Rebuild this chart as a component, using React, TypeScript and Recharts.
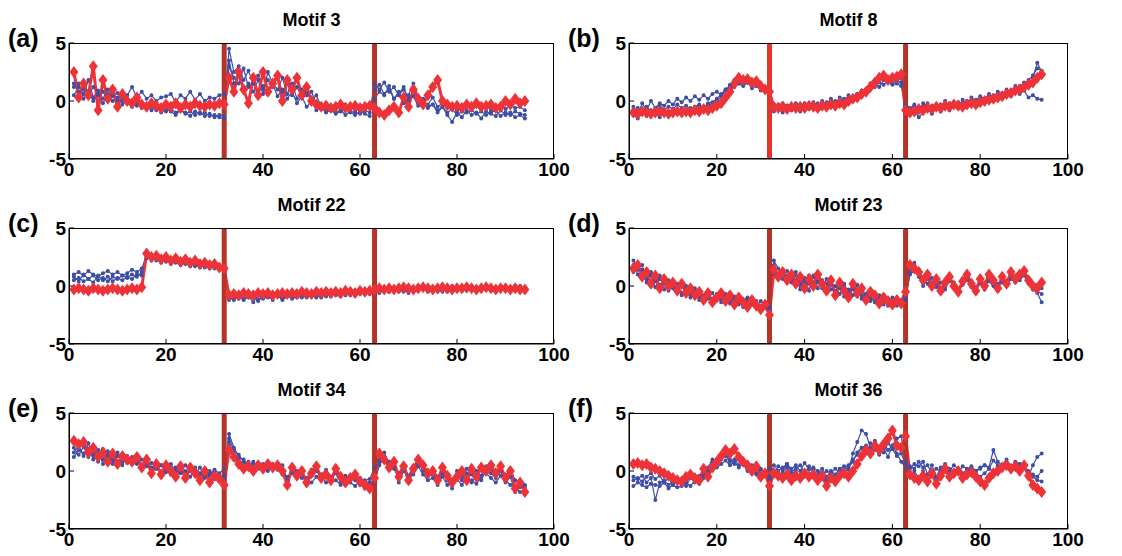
import React from "react";
import { LineChart, Line, XAxis, YAxis, ReferenceLine } from "recharts";

// Motif profiles, x = 1..94. red = motif centroid, blue = member profiles.
const panelLabels = ["(a)", "(b)", "(c)", "(d)", "(e)", "(f)"];
const panelTitles = ["Motif 3", "Motif 8", "Motif 22", "Motif 23", "Motif 34", "Motif 36"];
const xTicks = [0, 20, 40, 60, 80, 100];
const yTicks = [-5, 0, 5];
const breakPoints = [32, 63];

const redA = [2.5,0.3,1.5,0.5,3.0,-0.8,1.8,0.2,1.0,-0.5,0.6,0.0,-0.2,0.3,-0.3,-0.5,-0.2,-0.4,-0.6,-0.3,-0.5,-0.2,-0.6,-0.3,-0.5,-0.2,-0.4,-0.5,-0.3,-0.4,-0.2,
  -0.3,2.0,0.8,2.5,1.0,-0.2,2.0,0.5,2.5,0.8,1.5,2.2,0.0,1.8,1.0,2.0,0.5,1.2,0.0,-0.3,-0.5,-0.4,-0.6,-0.5,-0.3,-0.6,-0.5,-0.4,-0.6,-0.5,-0.4,
  -0.6,-1.0,-1.2,-0.8,-0.5,-1.0,0.3,-0.5,1.0,0.2,-0.3,0.5,1.2,1.8,0.0,-0.3,-0.5,-0.4,-0.6,-0.3,-0.5,-0.2,-0.5,-0.4,-0.3,-0.6,-0.5,0.0,-0.3,0.2,-0.2,0.0];
const blueA1 = [1.5,0.8,1.0,0.5,1.2,0.6,0.8,0.2,0.5,0.0,0.3,-0.2,0.0,-0.4,-0.3,-0.6,-0.5,-0.8,-0.6,-0.9,-0.7,-1.0,-0.8,-1.1,-0.9,-1.2,-1.0,-1.3,-1.1,-1.4,-1.2,
  -1.3,4.5,2.5,3.0,1.8,2.6,1.5,2.2,1.0,1.8,1.2,2.0,0.8,1.5,0.5,1.2,0.3,0.8,0.0,0.5,-0.5,-0.8,-0.6,-1.0,-0.8,-1.2,-0.9,-1.0,-1.1,-0.8,-1.0,
  1.5,1.0,1.6,0.8,1.2,0.5,1.0,0.3,0.6,-0.2,0.2,-0.5,-0.3,-0.8,-0.5,-1.0,-0.7,-1.2,-0.9,-1.0,-0.8,-1.1,-0.9,-1.2,-1.0,-0.8,-1.3,-1.0,-1.2,-0.9,-1.1,-1.2];
const blueA2 = [0.5,1.2,0.6,1.8,0.3,0.9,0.2,1.0,0.4,0.7,0.0,0.5,1.2,0.3,0.8,0.2,0.5,0.0,0.3,0.4,0.6,-0.1,0.5,0.2,0.8,0.1,0.6,0.0,0.3,0.2,0.5,
  0.6,3.5,1.5,2.2,1.0,1.5,0.8,1.8,0.6,2.5,1.5,1.0,2.0,0.6,1.5,0.2,1.0,0.5,0.8,-0.3,-0.5,-0.2,-0.8,-0.4,-0.6,-0.3,-0.5,-0.8,-0.4,-0.6,-0.5,
  0.2,0.8,0.5,1.3,0.2,0.8,-0.2,0.5,1.5,0.4,0.0,-0.3,0.3,-0.5,-0.2,-0.6,-0.3,-0.8,-0.5,-0.4,-0.7,-0.3,-0.6,-0.4,-0.8,-0.5,-0.3,-0.7,-0.4,-0.6,-0.5,-0.8];
const blueA3 = [1.2,1.5,0.2,0.8,0.0,0.5,-0.2,0.6,0.0,0.3,-0.3,0.0,-0.5,-0.2,-0.6,-0.4,-0.8,-0.5,-1.0,-0.7,-0.9,-1.2,-0.8,-1.0,-1.3,-0.9,-1.1,-1.0,-1.3,-1.2,-1.4,
  -1.5,3.0,2.0,1.5,2.8,1.2,1.6,0.8,1.3,0.6,1.5,0.4,1.0,0.2,0.8,-0.2,0.4,-0.5,0.0,-0.8,-0.6,-1.0,-0.8,-1.1,-0.9,-0.7,-1.0,-1.2,-0.9,-1.1,-1.3,
  1.0,1.4,0.6,1.0,0.2,0.6,1.2,0.0,0.4,-0.4,0.0,-0.6,-0.3,-1.0,-0.5,-1.2,-1.8,-1.0,-1.4,-0.8,-1.2,-1.0,-1.5,-0.9,-1.1,-1.3,-0.8,-1.2,-1.0,-1.4,-1.2,-1.5];

const redB = [-1.0,-1.1,-0.9,-1.0,-1.1,-1.0,-0.9,-1.0,-1.1,-1.0,-0.9,-1.0,-0.9,-1.0,-0.8,-0.9,-0.7,-0.8,-0.6,-0.4,-0.2,0.3,0.8,1.5,2.0,1.8,1.9,1.6,1.7,1.3,1.0,
  0.8,-0.5,-0.6,-0.5,-0.7,-0.5,-0.6,-0.5,-0.6,-0.4,-0.5,-0.6,-0.4,-0.5,-0.3,-0.4,-0.2,-0.3,0.0,0.2,0.3,0.6,0.8,1.2,1.6,2.0,2.2,1.8,2.0,2.1,2.3,
  -0.8,-1.0,-0.9,-0.7,-0.8,-0.6,-0.7,-0.5,-0.6,-0.4,-0.5,-0.3,-0.4,-0.5,-0.3,-0.2,-0.3,-0.1,0.0,0.1,0.2,0.3,0.4,0.6,0.7,0.9,1.0,1.2,1.4,1.6,2.0,2.3];
const blueB1 = [-0.5,-1.2,-0.2,-0.8,0.0,-0.6,-0.2,-0.4,0.0,-0.3,0.2,-0.1,0.3,0.0,0.4,0.1,0.5,0.2,0.6,0.8,0.5,1.0,1.2,1.6,1.8,1.5,2.0,1.7,1.5,1.3,1.2,
  0.5,-0.6,-0.3,-0.8,-0.4,-0.7,-0.2,-0.6,-0.3,-0.5,-0.1,-0.4,0.0,-0.3,0.2,-0.2,0.3,0.0,0.5,0.2,0.6,0.8,1.0,1.3,1.5,1.2,1.8,1.6,1.4,1.5,1.3,
  -0.5,-0.8,-0.3,-1.0,-0.5,-0.2,-0.8,-0.3,-0.6,0.0,-0.4,-0.1,-0.5,0.1,-0.2,0.3,0.0,0.4,0.2,0.6,0.3,0.8,0.5,1.0,0.8,1.3,1.0,1.6,1.2,2.0,3.3,2.5];
const blueB2 = [-1.2,-1.5,-1.0,-1.3,-0.8,-1.1,-1.4,-0.9,-1.2,-0.8,-1.0,-0.7,-0.9,-0.6,-0.8,-0.5,-0.7,-0.4,-0.2,0.0,0.4,0.9,1.4,1.8,1.5,2.0,1.6,1.8,1.4,1.2,0.9,
  0.6,-0.9,-0.7,-1.0,-0.6,-0.8,-0.5,-0.9,-0.6,-0.7,-0.4,-0.6,-0.5,-0.3,-0.5,-0.2,-0.4,0.0,-0.2,0.3,0.5,0.4,0.9,1.1,1.4,1.8,2.0,1.6,1.9,1.7,2.0,
  -1.0,-1.2,-0.8,-1.4,-1.0,-0.7,-1.1,-0.6,-0.9,-0.5,-0.8,-0.3,-0.6,-0.2,-0.5,0.0,-0.3,0.1,-0.2,0.3,0.0,0.5,0.2,0.8,0.4,1.0,0.6,0.9,0.3,0.5,0.2,0.1];
const blueB3 = [-0.8,-0.6,-1.0,-0.5,-0.9,-0.7,-0.4,-0.8,-0.5,-0.7,-0.3,-0.6,-0.4,-0.7,-0.5,-0.3,-0.6,-0.2,-0.1,0.2,0.6,1.0,1.3,1.2,1.5,1.3,1.6,1.1,1.3,0.9,0.8,
  0.7,-0.3,-0.5,-0.2,-0.4,-0.6,-0.3,-0.4,-0.2,-0.5,-0.3,-0.2,-0.4,-0.1,-0.3,0.0,-0.1,0.2,0.1,0.4,0.6,0.9,1.0,1.5,1.2,1.6,1.4,1.7,1.5,1.8,1.6,
  -0.3,-0.6,-0.4,-0.8,-0.2,-0.5,-0.4,-0.7,-0.3,-0.5,-0.2,-0.4,-0.1,-0.3,0.0,-0.2,0.1,0.2,0.0,0.3,0.5,0.4,0.7,0.6,0.9,1.1,1.3,1.5,1.8,2.2,2.8,2.6];

const redC = [-0.3,-0.2,-0.3,-0.4,-0.2,-0.3,-0.4,-0.3,-0.2,-0.3,-0.4,-0.3,-0.2,-0.3,-0.1,2.8,2.5,2.6,2.3,2.5,2.2,2.4,2.1,2.3,2.0,2.2,1.9,2.0,1.8,1.9,1.6,
  1.5,-0.8,-0.7,-0.8,-0.6,-0.7,-0.8,-0.6,-0.7,-0.6,-0.8,-0.7,-0.6,-0.7,-0.6,-0.7,-0.5,-0.6,-0.7,-0.5,-0.6,-0.5,-0.6,-0.5,-0.6,-0.4,-0.5,-0.6,-0.4,-0.5,-0.4,
  -0.3,-0.2,-0.3,-0.2,-0.3,-0.2,-0.1,-0.2,-0.3,-0.2,-0.1,-0.2,-0.3,-0.2,-0.1,-0.2,-0.3,-0.2,-0.2,-0.1,-0.2,-0.3,-0.2,-0.1,-0.2,-0.3,-0.2,-0.2,-0.3,-0.2,-0.3,-0.3];
const blueC1 = [1.0,1.2,0.9,1.3,1.0,0.8,1.1,1.3,1.0,1.2,0.9,1.1,1.4,1.2,1.5,2.6,2.2,2.4,2.0,2.3,1.9,2.1,1.8,2.0,1.7,1.9,1.6,1.8,1.5,1.7,1.4,
  1.3,-1.0,-1.2,-0.9,-1.1,-0.8,-1.0,-1.2,-0.8,-1.0,-0.7,-0.9,-1.1,-0.8,-0.9,-0.7,-0.8,-1.0,-0.7,-0.8,-0.6,-0.8,-0.5,-0.7,-0.6,-0.8,-0.5,-0.6,-0.4,-0.5,-0.4,
  -0.5,-0.3,-0.5,-0.2,-0.4,-0.3,-0.5,-0.2,-0.4,-0.3,-0.1,-0.4,-0.2,-0.5,-0.3,-0.1,-0.4,-0.2,-0.3,0.0,-0.2,-0.4,-0.1,-0.3,-0.2,-0.4,-0.1,-0.3,-0.2,0.0,-0.2,-0.3];
const blueC2 = [0.5,0.7,0.4,0.6,0.9,0.5,0.7,0.4,0.8,0.6,0.9,0.7,1.0,0.8,1.2,2.9,2.4,2.7,2.3,2.5,2.1,2.3,2.0,2.2,1.8,2.1,1.7,1.9,1.6,1.8,1.5,
  1.4,-0.6,-0.9,-1.1,-0.7,-1.0,-0.8,-1.3,-0.9,-0.7,-1.0,-0.8,-1.2,-0.9,-0.7,-1.0,-0.6,-0.9,-0.8,-1.0,-0.7,-0.9,-0.6,-0.8,-0.9,-0.6,-0.8,-0.5,-0.7,-0.6,-0.7,
  -0.1,-0.4,-0.2,-0.5,-0.1,-0.3,-0.4,-0.1,-0.3,0.0,-0.2,-0.4,-0.1,-0.3,-0.5,-0.2,0.0,-0.3,-0.1,-0.4,-0.2,-0.1,-0.3,0.0,-0.2,-0.4,-0.2,-0.1,-0.3,-0.1,0.0,-0.2];
const blueC3 = [0.8,0.4,1.0,0.6,0.3,0.9,0.5,0.8,0.4,0.7,0.5,0.8,0.6,1.0,0.9,2.4,2.7,2.2,2.5,2.1,2.4,2.0,2.2,1.9,2.1,1.7,2.0,1.6,1.8,1.5,1.6,
  1.6,-1.2,-1.0,-0.7,-1.2,-0.9,-1.4,-0.8,-1.1,-0.9,-1.2,-0.7,-1.0,-0.8,-1.1,-0.9,-1.0,-0.7,-0.9,-0.8,-1.0,-0.7,-0.9,-0.6,-0.8,-0.7,-0.5,-0.8,-0.6,-0.7,-0.5,
  -0.4,-0.6,-0.3,-0.5,-0.2,-0.5,-0.3,-0.6,-0.2,-0.4,-0.3,-0.5,-0.2,-0.4,-0.2,-0.5,-0.3,-0.1,-0.4,-0.3,-0.2,-0.4,-0.3,-0.1,-0.4,-0.2,-0.3,-0.2,-0.4,-0.1,-0.3,-0.2];

const redD = [1.5,1.8,0.8,1.2,0.2,0.9,-0.2,0.6,0.0,0.3,-0.4,0.2,-0.6,-0.2,-0.8,-0.5,-1.2,-0.6,-1.4,-1.0,-0.6,-1.3,-0.8,-1.6,-1.0,-1.4,-1.8,-1.2,-1.7,-2.0,-1.6,
  -2.5,1.4,0.8,1.2,0.5,1.0,0.2,0.8,-0.2,0.6,0.0,1.0,0.2,-0.4,0.5,-0.8,0.3,-0.4,-1.0,0.2,-0.6,-0.2,-1.2,-0.5,-0.8,-1.5,-1.0,-1.3,-1.6,-1.2,-1.5,
  -0.5,1.8,1.5,1.2,0.5,1.0,0.0,0.6,-0.4,0.3,0.8,0.0,-0.5,0.4,1.0,0.2,-0.4,0.6,0.0,1.0,0.5,-0.2,0.8,0.2,1.2,0.6,1.0,1.3,0.5,0.0,-0.2,0.3];
const blueD1 = [2.2,1.4,1.8,0.6,1.2,0.4,0.9,-0.3,0.5,-0.2,0.2,-0.8,0.0,-1.0,-0.4,-1.2,-0.8,-0.5,-1.5,-0.9,-1.2,-0.7,-1.5,-1.1,-1.3,-1.8,-1.2,-1.6,-1.3,-1.9,-1.5,
  -1.8,2.2,1.5,0.9,1.3,0.4,0.9,-0.3,0.7,0.2,0.9,-0.2,0.5,-0.6,0.3,-0.5,0.0,-0.9,-0.3,-0.8,0.1,-1.1,-0.7,-1.0,-1.4,-0.8,-1.6,-1.1,-1.8,-1.3,-1.2,
  -0.3,1.5,2.0,1.0,0.3,0.8,-0.2,0.5,-0.6,0.2,0.9,-0.2,-0.7,0.3,0.8,-0.1,-0.6,0.5,-0.3,0.8,0.2,-0.4,0.6,0.0,1.0,0.3,0.8,1.1,0.2,-0.3,-0.6,-1.4];
const blueD2 = [1.2,2.0,1.0,0.6,0.9,-0.1,0.6,0.2,-0.4,0.4,-0.5,0.0,-0.4,-0.8,-0.2,-1.0,-1.3,-0.8,-1.1,-0.7,-1.4,-1.0,-0.6,-1.2,-0.9,-1.5,-1.1,-1.4,-1.8,-1.3,-1.6,
  -2.0,1.8,0.6,1.4,0.7,0.3,1.2,0.1,0.5,-0.4,0.8,0.3,-0.2,0.6,-0.3,0.0,-0.7,0.2,-0.6,-0.1,-0.9,-0.4,-0.8,-1.3,-0.6,-1.1,-0.8,-1.7,-1.2,-1.0,-1.4,
  -1.0,1.2,1.6,1.4,0.6,0.2,0.7,-0.1,0.3,-0.3,0.5,0.2,-0.3,0.1,0.6,0.4,-0.2,0.3,0.1,0.6,0.3,0.0,0.5,0.3,0.9,0.5,0.8,1.0,0.6,0.2,0.1,-0.2];
const blueD3 = [1.8,1.0,1.4,0.3,1.0,0.6,0.1,0.4,-0.3,0.1,-0.2,-0.6,-0.3,-0.5,-1.0,-0.7,-0.9,-1.1,-0.6,-1.2,-0.8,-1.1,-1.3,-0.9,-1.6,-1.2,-1.0,-1.5,-1.4,-1.7,-1.9,
  -2.2,1.0,1.1,0.6,0.9,0.7,0.5,0.4,0.2,0.9,0.3,0.4,0.0,0.2,0.1,-0.4,-0.2,0.0,-0.5,-0.3,-0.4,-0.8,-1.0,-0.7,-1.2,-0.9,-1.3,-1.4,-1.0,-1.7,-1.3,
  -1.2,1.0,1.3,0.8,0.0,0.6,0.3,0.2,-0.2,0.0,0.4,0.3,-0.4,0.2,0.5,0.0,-0.1,0.2,0.0,0.4,0.0,0.2,0.3,0.1,0.6,0.7,0.5,0.9,0.3,0.0,-0.4,-0.7];

const redE = [2.6,2.3,2.5,1.6,2.0,1.2,1.6,0.8,1.5,0.6,1.3,1.0,0.8,1.2,0.3,1.0,-0.2,0.6,-0.3,0.5,0.0,-0.5,0.4,-0.6,0.3,-0.2,-0.8,0.0,-1.0,-0.4,-0.7,
  -1.2,1.8,1.2,0.6,0.2,0.4,0.0,0.5,0.2,0.6,0.3,0.5,0.0,-1.2,0.3,-0.4,0.0,-1.0,-0.2,0.4,-0.6,-0.3,-0.8,0.2,-0.5,-1.0,-0.6,-0.3,-0.9,-1.2,-1.5,
  -0.6,1.5,1.0,0.3,0.8,-0.5,0.4,-0.8,0.2,1.0,0.5,-0.2,0.0,-0.8,0.3,-0.4,-1.0,-0.5,0.0,-0.8,0.2,-0.5,0.3,0.0,0.5,-0.2,0.4,-0.6,0.0,-1.5,-1.0,-1.8];
const blueE1 = [1.6,2.2,1.3,2.4,1.0,1.8,0.6,1.4,0.9,1.6,0.5,1.3,0.7,1.0,0.4,1.2,0.1,0.8,-0.2,0.4,0.2,-0.4,0.3,-0.5,0.1,-0.3,0.3,-0.6,-0.2,0.0,-0.5,
  -0.4,3.2,2.0,1.2,1.0,0.5,0.8,0.2,0.6,0.0,0.5,0.2,0.4,-1.0,0.0,-0.6,0.2,-1.2,-0.4,0.2,-0.8,-0.4,-1.0,0.0,-0.7,-1.2,-0.4,-0.8,-1.2,-0.9,-1.0,
  -0.8,1.0,1.6,0.6,0.2,-0.6,0.3,-1.0,0.0,0.6,0.2,-0.5,-0.3,-1.2,-0.2,-0.8,-1.5,-0.4,-0.8,-0.2,-1.0,-0.4,-0.8,0.2,-0.2,-0.6,0.0,-1.0,-0.5,-1.8,-1.4,-1.2];
const blueE2 = [2.0,1.4,2.1,1.2,1.6,0.8,1.9,1.2,1.0,1.4,0.8,1.0,1.2,0.6,1.0,0.4,0.7,0.2,0.5,-0.1,0.6,0.0,-0.2,0.5,0.0,0.3,-0.3,0.2,-0.4,0.1,-0.2,
  0.2,2.5,1.5,1.0,0.6,0.8,0.2,0.7,0.4,0.3,0.6,0.1,0.5,-0.8,0.4,0.0,-0.3,-0.6,0.1,0.0,-0.3,0.1,-0.5,-0.2,-0.9,-0.4,-0.8,-0.5,-0.6,-0.8,-0.7,
  0.3,0.8,1.2,0.8,0.4,-0.2,0.6,-0.4,0.4,0.8,0.0,-0.2,0.2,-0.5,0.0,-0.3,-0.8,0.0,-0.5,0.2,-0.3,0.0,-0.4,0.4,0.1,-0.3,0.3,-0.4,0.2,-0.8,-0.9,-1.4];
const blueE3 = [1.2,1.8,1.5,1.9,1.3,1.5,1.0,1.7,0.6,1.3,1.0,0.7,1.1,0.8,0.5,0.8,0.3,0.2,0.5,0.0,-0.3,0.3,-0.1,0.0,-0.5,0.2,-0.2,-0.4,0.0,-0.7,-0.4,
  -0.8,2.8,1.8,1.4,0.8,0.3,0.6,0.3,0.0,0.4,0.2,0.6,-0.3,-0.5,-0.2,-0.2,-0.6,-0.8,-1.0,-0.5,-0.4,-1.0,-0.6,-0.8,-1.2,-0.6,-1.0,-1.3,-0.8,-1.5,-1.2,
  -1.0,0.5,1.2,0.2,0.6,-1.0,0.0,-0.6,-0.3,0.4,-0.3,-0.8,-0.6,-1.0,-0.5,-1.2,-0.9,-0.7,-1.2,-0.6,-0.8,-1.1,-0.5,-0.2,-0.6,-1.0,-0.4,-0.8,-1.2,-1.4,-1.8,-2.0];

const redF = [0.6,0.7,0.5,0.6,0.3,0.2,0.0,-0.2,-0.4,-0.6,-0.8,-0.9,-0.5,-0.3,-0.6,-0.8,0.2,-0.5,0.3,0.8,1.3,1.8,1.5,1.9,1.2,0.8,0.5,0.0,0.4,-0.5,-0.2,
  -1.3,-0.2,-0.4,-0.6,-0.3,-0.8,-0.4,-0.6,-0.2,-0.5,-0.3,-0.8,-0.4,-1.3,-0.6,-0.9,-0.4,-0.2,-0.5,0.0,0.6,1.3,1.8,1.5,2.2,1.8,2.3,2.8,3.5,2.2,2.0,
  3.0,-0.3,-0.6,-0.8,-0.4,-0.9,-0.2,-1.1,-0.4,0.2,-0.5,-0.2,0.0,-0.6,-0.3,-0.1,-0.5,-0.9,-1.2,-0.6,-0.2,0.0,0.3,0.5,0.2,0.4,0.0,0.5,-0.4,-1.2,-1.5,-1.8];
const blueF1 = [-0.5,-0.7,-0.4,-1.0,-0.6,-2.5,-1.0,-0.8,-1.2,-0.9,-1.0,-1.1,-0.8,-0.6,-0.9,-0.7,-0.3,0.3,1.0,0.8,1.2,1.4,1.0,0.6,1.2,0.6,0.2,-0.2,0.4,-0.3,0.0,
  -0.6,0.5,0.0,0.3,0.6,-0.1,0.2,0.5,-0.2,0.4,0.0,-0.3,0.2,-0.5,0.0,-0.3,0.2,0.4,0.1,1.5,2.5,3.5,3.2,2.0,2.6,1.5,2.4,1.8,2.2,2.8,3.0,
  0.8,0.2,0.6,0.4,0.8,-0.3,0.5,-0.5,0.3,0.6,0.2,0.0,-0.2,0.4,0.2,-0.3,0.0,0.2,0.5,0.3,1.8,0.8,0.5,1.0,0.4,0.8,0.6,0.3,-0.5,0.5,1.2,1.5];
const blueF2 = [-1.3,-1.0,-1.2,-1.4,-1.1,-1.2,-1.3,-1.0,-1.5,-1.2,-1.4,-1.3,-1.0,-1.3,-0.8,-1.1,-0.5,0.0,0.8,0.9,1.0,1.3,0.8,1.0,0.5,0.9,0.2,0.5,-0.3,0.2,-0.4,
  -0.4,0.0,-0.4,-0.1,0.3,-0.3,0.0,-0.6,-0.1,-0.3,0.0,-0.5,-0.2,-0.8,-0.3,-0.5,0.0,-0.2,0.3,0.8,1.6,2.0,1.5,2.4,1.8,2.0,1.6,2.4,1.9,1.3,1.5,
  0.6,-0.5,0.0,-0.6,0.0,-0.7,-0.3,-0.6,-0.2,0.0,-0.4,-0.1,0.2,-0.5,0.0,0.3,-0.2,-0.5,-0.2,0.2,0.0,0.4,0.2,0.6,0.4,0.2,0.5,0.3,-0.2,-0.5,-0.8,-0.9];
const blueF3 = [-0.8,-0.6,-0.9,-0.5,-0.2,-0.7,-0.4,-1.0,-0.6,-1.2,-0.8,-1.0,-1.3,-0.6,-1.0,-0.4,-0.6,-0.2,0.4,0.3,0.6,0.9,0.5,0.8,0.3,0.6,0.0,0.3,-0.2,0.1,-0.2,
  0.2,-0.2,0.4,0.1,0.6,0.2,0.5,0.0,0.7,0.1,0.3,0.0,-0.3,0.0,-0.2,0.2,-0.1,0.3,0.5,1.0,1.4,2.0,2.2,1.6,2.5,1.4,2.0,1.2,2.2,1.5,0.8,
  0.3,0.4,0.2,0.8,0.3,0.5,-0.2,0.2,0.0,0.3,0.0,0.5,0.2,-0.2,0.1,0.4,0.0,0.3,0.5,0.2,0.9,0.5,0.3,0.6,0.4,0.3,0.6,0.4,0.0,-0.3,-0.5,0.0];

const panelSeries = [
  [redA, blueA1, blueA2, blueA3],
  [redB, blueB1, blueB2, blueB3],
  [redC, blueC1, blueC2, blueC3],
  [redD, blueD1, blueD2, blueD3],
  [redE, blueE1, blueE2, blueE3],
  [redF, blueF1, blueF2, blueF3],
];

const RED = "#ee3338";
const BLUE = "#3d4ea6";
const FONT = "'Liberation Sans', Arial, sans-serif";

const Diamond = (props: any) => {
  const { cx, cy } = props;
  if (cx == null || cy == null) return null;
  return <polygon points={`${cx},${cy - 6} ${cx + 4.5},${cy} ${cx},${cy + 6} ${cx - 4.5},${cy}`} fill={RED} />;
};

function Panel({ idx }: { idx: number }) {
  const col = idx % 2;
  const row = Math.floor(idx / 2);
  const plotLeft = col === 0 ? 69 : 629;
  const plotW = col === 0 ? 485 : 439;
  const plotTop = [43, 228, 413][row];
  const plotH = 116;
  const yAxisW = 40;
  const top = 24;
  const series = panelSeries[idx];
  const data = series[0].map((_, i) => ({
    x: i + 1,
    red: series[0][i],
    b1: series[1][i],
    b2: series[2][i],
    b3: series[3][i],
  }));
  const tick = { fill: "#000", fontSize: 19, fontWeight: 700, fontFamily: FONT };
  return (
    <>
      <div style={{ position: "absolute", left: plotLeft, width: plotW, top: plotTop - 33, textAlign: "center", fontFamily: FONT, fontWeight: 700, fontSize: 18 }}>
        {panelTitles[idx]}
      </div>
      <div style={{ position: "absolute", left: col === 0 ? 8 : 568, top: plotTop - 19, fontFamily: FONT, fontWeight: 700, fontSize: 25 }}>
        {panelLabels[idx]}
      </div>
      <div style={{ position: "absolute", left: plotLeft - yAxisW, top: plotTop - top }}>
        <LineChart width={plotW + yAxisW + 30} height={top + plotH + 32} data={data} margin={{ top, right: 30, left: 0, bottom: 0 }}>
          <XAxis type="number" dataKey="x" domain={[0, 100]} ticks={xTicks} tick={tick} tickSize={-5} tickMargin={9} stroke="#000" height={32} />
          <YAxis type="number" domain={[-5, 5]} ticks={yTicks} tick={tick} tickSize={-5} tickMargin={8} stroke="#000" width={yAxisW} />
          {(["b1", "b2", "b3"] as const).map((k) => (
            <Line key={k} dataKey={k} stroke={BLUE} strokeWidth={1.2} dot={{ r: 1.4, fill: BLUE, stroke: BLUE }} isAnimationActive={false} />
          ))}
          <Line dataKey="red" stroke={RED} strokeWidth={3} dot={<Diamond />} isAnimationActive={false} />
          {breakPoints.map((b, j) => (
            <ReferenceLine key={b} x={b} stroke={idx === 1 && j === 0 ? "#e8332a" : "#b5342a"} strokeWidth={5} />
          ))}
        </LineChart>
      </div>
      <div style={{ position: "absolute", left: plotLeft, top: plotTop, width: plotW, height: plotH, border: "1px solid #000", boxSizing: "border-box", pointerEvents: "none" }} />
    </>
  );
}

export default function App() {
  return (
    <div style={{ position: "absolute", left: 0, top: 0, width: 1122, height: 556, background: "#fff" }}>
      {[0, 1, 2, 3, 4, 5].map((i) => (
        <Panel key={i} idx={i} />
      ))}
    </div>
  );
}
